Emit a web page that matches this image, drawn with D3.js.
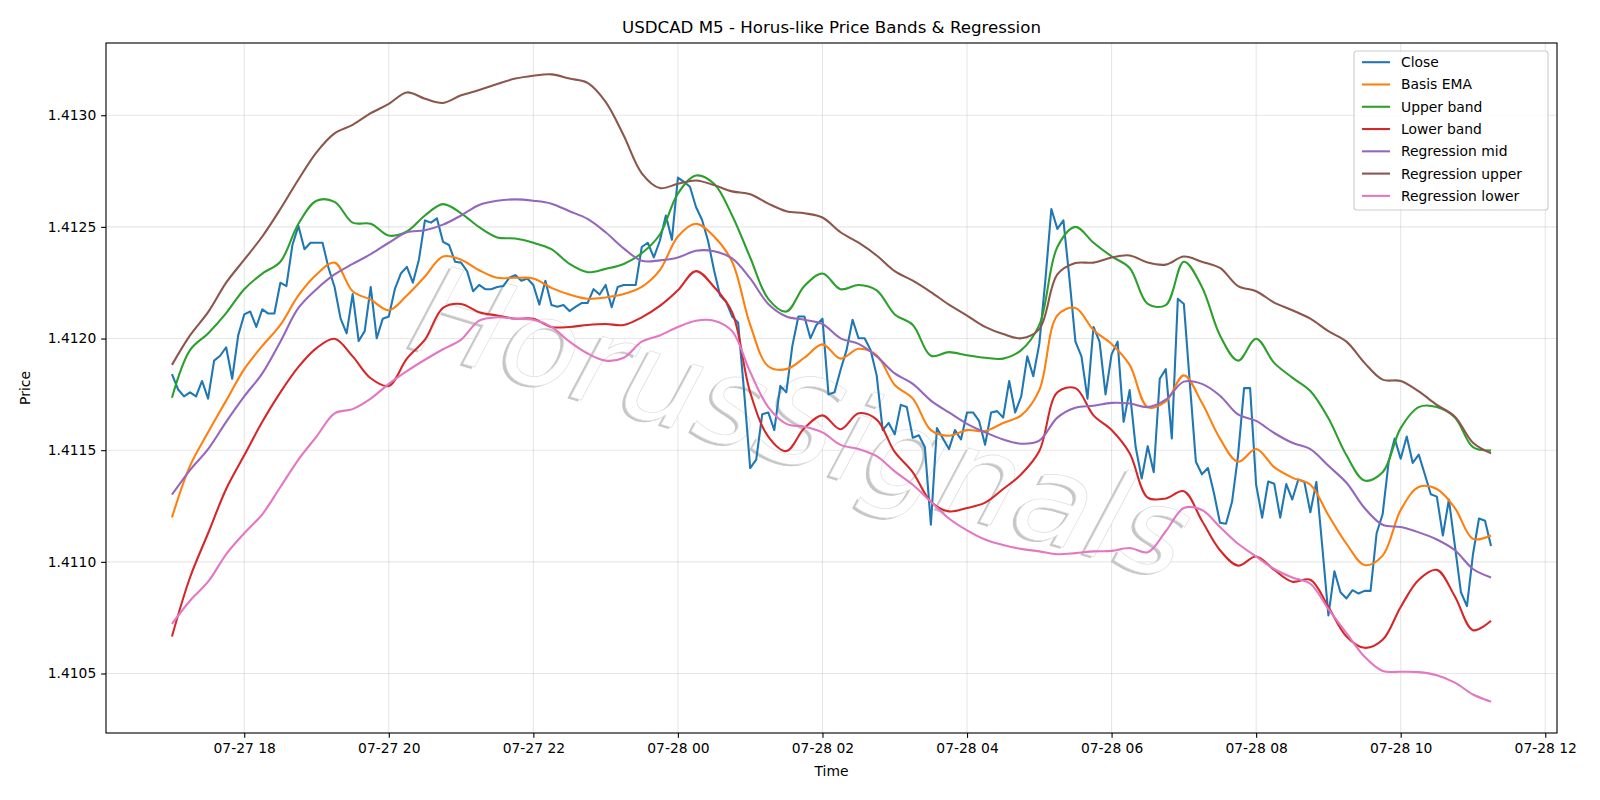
<!DOCTYPE html>
<html><head><meta charset="utf-8">
<script src="https://cdn.jsdelivr.net/npm/d3@7"></script>
<style>body{margin:0;background:#fff} text{font-family:"DejaVu Sans",sans-serif}</style>
</head><body><svg id="c" width="1600" height="800"></svg>
<script>
// ---------- DATA ----------
const chartTitle = "USDCAD M5 - Horus-like Price Bands & Regression";
const startTimeUTC = Date.UTC(2025, 6, 27, 17, 0); // 07-27 17:00
const closeStepMinutes = 5;
const bandStepMinutes = 15;
const closePrices = [
1.411841,1.411773,1.411741,1.411759,1.411741,1.411810,1.411731,1.411901,1.411923,1.411961,
1.411820,1.412014,1.412108,1.412121,1.412052,1.412131,1.412112,1.412112,1.412250,1.412235,
1.412419,1.412504,1.412400,1.412429,1.412429,1.412429,1.412316,1.412231,1.412089,1.412023,
1.412199,1.411989,1.412033,1.412231,1.412001,1.412089,1.412099,1.412221,1.412291,1.412321,
1.412250,1.412353,1.412529,1.412519,1.412538,1.412433,1.412419,1.412344,1.412340,1.412302,
1.412212,1.412240,1.412221,1.412221,1.412231,1.412235,1.412272,1.412284,1.412259,1.412269,
1.412240,1.412152,1.412259,1.412150,1.412142,1.412150,1.412123,1.412142,1.412159,1.412159,
1.412221,1.412197,1.412240,1.412140,1.412231,1.412240,1.412240,1.412240,1.412410,1.412429,
1.412363,1.412438,1.412551,1.412442,1.412721,1.412702,1.412680,1.412589,1.412532,1.412438,
1.412306,1.412193,1.412165,1.412099,1.412071,1.411759,1.411420,1.411458,1.411661,1.411669,
1.411590,1.411788,1.411759,1.411967,1.412099,1.412099,1.412001,1.412061,1.412089,1.411750,
1.411759,1.411859,1.411948,1.412084,1.412001,1.412001,1.411948,1.411835,1.411590,1.411622,
1.411571,1.411703,1.411693,1.411556,1.411567,1.411514,1.411166,1.411599,1.411552,1.411505,
1.411590,1.411548,1.411669,1.411669,1.411631,1.411524,1.411669,1.411675,1.411646,1.411810,
1.411669,1.411741,1.411920,1.411831,1.411976,1.412259,1.412580,1.412491,1.412529,1.412269,
1.411986,1.411920,1.411731,1.412052,1.411986,1.411750,1.411929,1.411986,1.411627,1.411769,
1.411514,1.411373,1.411518,1.411401,1.411820,1.411863,1.411552,1.412178,1.412155,1.411797,
1.411448,1.411392,1.411420,1.411307,1.411175,1.411171,1.411269,1.411477,1.411778,1.411778,
1.411345,1.411198,1.411360,1.411350,1.411198,1.411348,1.411279,1.411369,1.411358,1.411222,
1.411358,1.411062,1.410760,1.410958,1.410864,1.410836,1.410873,1.410858,1.410870,1.410870,
1.411128,1.411213,1.411448,1.411552,1.411462,1.411561,1.411443,1.411480,1.411392,1.411303,
1.411292,1.411118,1.411279,1.411071,1.410864,1.410802,1.411034,1.411194,1.411184,1.411071];
const basisEma = [
1.411199,1.411430,1.411580,1.411722,1.411863,1.411967,1.412061,1.412193,1.412287,1.412340,
1.412212,1.412174,1.412127,1.412193,1.412278,1.412367,1.412353,1.412306,1.412272,1.412272,
1.412269,1.412227,1.412197,1.412178,1.412184,1.412199,1.412231,1.412306,1.412457,1.412514,
1.412457,1.412344,1.412061,1.411876,1.411863,1.411914,1.411974,1.411910,1.411954,1.411925,
1.411792,1.411731,1.411590,1.411565,1.411590,1.411586,1.411622,1.411656,1.411769,1.412104,
1.412137,1.412038,1.411976,1.411882,1.411693,1.411718,1.411835,1.411712,1.411552,1.411448,
1.411505,1.411424,1.411377,1.411345,1.411209,1.411081,1.410986,1.411028,1.411232,1.411335,
1.411326,1.411241,1.411103,1.411118];
const upperBand = [
1.411735,1.411948,1.412023,1.412114,1.412221,1.412291,1.412344,1.412514,1.412617,1.412612,
1.412519,1.412514,1.412461,1.412480,1.412551,1.412602,1.412561,1.412499,1.412453,1.412448,
1.412429,1.412400,1.412334,1.412297,1.412312,1.412334,1.412382,1.412466,1.412649,1.412730,
1.412693,1.412551,1.412363,1.412178,1.412121,1.412235,1.412291,1.412221,1.412240,1.412216,
1.412108,1.412061,1.411923,1.411939,1.411925,1.411914,1.411910,1.411948,1.412061,1.412410,
1.412500,1.412429,1.412368,1.412316,1.412155,1.412150,1.412344,1.412231,1.412014,1.411901,
1.411999,1.411891,1.411825,1.411765,1.411643,1.411477,1.411364,1.411401,1.411599,1.411693,
1.411693,1.411646,1.411514,1.411499];
const lowerBand = [
1.410666,1.410930,1.411128,1.411326,1.411477,1.411627,1.411759,1.411873,1.411957,1.411999,
1.411920,1.411822,1.411788,1.411910,1.411995,1.412137,1.412155,1.412118,1.412103,1.412089,
1.412089,1.412052,1.412052,1.412061,1.412065,1.412061,1.412095,1.412146,1.412216,1.412302,
1.412231,1.412118,1.411759,1.411561,1.411496,1.411599,1.411656,1.411594,1.411665,1.411637,
1.411492,1.411401,1.411269,1.411226,1.411241,1.411265,1.411326,1.411392,1.411496,1.411759,
1.411778,1.411656,1.411590,1.411486,1.411288,1.411284,1.411316,1.411184,1.411052,1.410983,
1.411024,1.410964,1.410911,1.410920,1.410798,1.410666,1.410615,1.410651,1.410798,1.410920,
1.410964,1.410845,1.410694,1.410736];
const regressionMid = [
1.411301,1.411411,1.411505,1.411627,1.411741,1.411844,1.411986,1.412137,1.412221,1.412287,
1.412334,1.412378,1.412429,1.412476,1.412485,1.412510,1.412551,1.412598,1.412617,1.412623,
1.412617,1.412604,1.412570,1.412536,1.412476,1.412404,1.412348,1.412350,1.412363,1.412393,
1.412391,1.412359,1.412269,1.412155,1.412099,1.412084,1.412065,1.412001,1.411976,1.411920,
1.411844,1.411797,1.411722,1.411669,1.411618,1.411580,1.411548,1.411529,1.411543,1.411646,
1.411690,1.411699,1.411712,1.411709,1.411693,1.411726,1.411807,1.411797,1.411744,1.411660,
1.411631,1.411577,1.411533,1.411505,1.411430,1.411354,1.411241,1.411166,1.411156,1.411132,
1.411100,1.411052,1.410968,1.410930];
const regressionUpper = [
1.411882,1.412014,1.412118,1.412250,1.412353,1.412457,1.412580,1.412712,1.412834,1.412919,
1.412957,1.413009,1.413051,1.413102,1.413074,1.413055,1.413089,1.413113,1.413140,1.413164,
1.413177,1.413183,1.413164,1.413145,1.413060,1.412909,1.412740,1.412674,1.412693,1.412708,
1.412687,1.412659,1.412646,1.412604,1.412570,1.412561,1.412542,1.412476,1.412429,1.412372,
1.412302,1.412259,1.412208,1.412152,1.412103,1.412052,1.412020,1.412001,1.412042,1.412287,
1.412338,1.412340,1.412363,1.412372,1.412340,1.412331,1.412367,1.412344,1.412316,1.412235,
1.412212,1.412161,1.412127,1.412089,1.412033,1.411986,1.411891,1.411816,1.411810,1.411763,
1.411703,1.411650,1.411533,1.411486];
const regressionLower = [
1.410722,1.410826,1.410911,1.411034,1.411128,1.411213,1.411335,1.411458,1.411561,1.411665,
1.411684,1.411731,1.411797,1.411854,1.411905,1.411952,1.411995,1.412080,1.412095,1.412089,
1.412084,1.412052,1.411986,1.411933,1.411901,1.411914,1.411986,1.412014,1.412052,1.412080,
1.412080,1.412033,1.411850,1.411693,1.411618,1.411605,1.411580,1.411524,1.411505,1.411473,
1.411405,1.411345,1.411269,1.411194,1.411141,1.411100,1.411075,1.411058,1.411047,1.411034,
1.411039,1.411047,1.411049,1.411062,1.411043,1.411137,1.411241,1.411232,1.411156,1.411081,
1.411024,1.410968,1.410930,1.410902,1.410788,1.410681,1.410575,1.410511,1.410508,1.410506,
1.410492,1.410459,1.410406,1.410374];
const seriesNames = ["Close","Basis EMA","Upper band","Lower band","Regression mid","Regression upper","Regression lower"];
const seriesColors = ["#1f77b4","#ff7f0e","#2ca02c","#d62728","#9467bd","#8c564b","#e377c2"];
const yTickValues = [1.4105, 1.4110, 1.4115, 1.4120, 1.4125, 1.4130];
const xTickFormat = "%m-%d %H";
const xTickHours = 2;
const watermarkText = "HorusSignals";

// ---------- LAYOUT ----------
const W = 1600, H = 800;
const m = {left: 106, right: 43, top: 43, bottom: 67};
const iw = W - m.left - m.right, ih = H - m.top - m.bottom;
const svg = d3.select("#c");
const px = 100/72; // points -> pixels at 100 dpi

const closeTimes = closePrices.map((_, i) => new Date(startTimeUTC + i*closeStepMinutes*60000));
const bandTimes = basisEma.map((_, i) => new Date(startTimeUTC + i*bandStepMinutes*60000));

const series = [
  {vals: closePrices, t: closeTimes, smooth: false},
  {vals: basisEma, t: bandTimes, smooth: true},
  {vals: upperBand, t: bandTimes, smooth: true},
  {vals: lowerBand, t: bandTimes, smooth: true},
  {vals: regressionMid, t: bandTimes, smooth: true},
  {vals: regressionUpper, t: bandTimes, smooth: true},
  {vals: regressionLower, t: bandTimes, smooth: true}
];

const tExt = d3.extent(closeTimes);
const tPad = (tExt[1] - tExt[0]) * 0.05;
const x = d3.scaleUtc().domain([new Date(+tExt[0] - tPad), new Date(+tExt[1] + tPad)]).range([0, iw]);
const allV = series.flatMap(s => s.vals);
const vExt = d3.extent(allV);
const vPad = (vExt[1] - vExt[0]) * 0.05;
const y = d3.scaleLinear().domain([vExt[0] - vPad, vExt[1] + vPad]).range([ih, 0]);

const g = svg.append("g").attr("transform", `translate(${m.left},${m.top})`);
svg.append("defs").append("clipPath").attr("id","clip").append("rect").attr("width", iw).attr("height", ih);

const xTicks = d3.utcHour.every(xTickHours).range(x.domain()[0], x.domain()[1]);

// grid
const grid = g.append("g");
grid.selectAll(".gx").data(xTicks).join("line")
  .attr("x1", d => x(d)).attr("x2", d => x(d)).attr("y1", 0).attr("y2", ih)
  .attr("stroke", "#b0b0b0").attr("stroke-opacity", 0.3).attr("stroke-width", 0.8*px);
grid.selectAll(".gy").data(yTickValues).join("line")
  .attr("y1", d => y(d)).attr("y2", d => y(d)).attr("x1", 0).attr("x2", iw)
  .attr("stroke", "#b0b0b0").attr("stroke-opacity", 0.3).attr("stroke-width", 0.8*px);

// watermark
const wmSize = 123;
const wm = g.append("g").attr("transform", `translate(${802 - m.left},${423 - m.top}) rotate(17)`);
wm.append("text").attr("x", -2.5).attr("y", 2.5).attr("text-anchor","middle").attr("dominant-baseline","central")
  .attr("font-size", wmSize).attr("font-style","italic").attr("fill","#c6c6c6").text(watermarkText);
wm.append("text").attr("x", 0).attr("y", 0).attr("text-anchor","middle").attr("dominant-baseline","central")
  .attr("font-size", wmSize).attr("font-style","italic").attr("fill","#ffffff")
  .attr("stroke", "#dedede").attr("stroke-width", 0.7).text(watermarkText);

// lines
const plot = g.append("g").attr("clip-path", "url(#clip)");
series.forEach((s, k) => {
  const line = d3.line().x((d, i) => x(s.t[i])).y(d => y(d))
    .curve(s.smooth ? d3.curveCatmullRom.alpha(0.5) : d3.curveLinear);
  plot.append("path").datum(s.vals).attr("d", line)
    .attr("fill", "none").attr("stroke", seriesColors[k]).attr("stroke-width", 1.5*px)
    .attr("stroke-linejoin", "round").attr("stroke-linecap", "butt");
});

// axes
const fs = 10*px;
const xAxis = g.append("g").attr("transform", `translate(0,${ih})`)
  .call(d3.axisBottom(x).tickValues(xTicks).tickFormat(d3.utcFormat(xTickFormat)).tickSize(3.5*px).tickPadding(3.5*px).tickSizeOuter(0));
const yAxis = g.append("g")
  .call(d3.axisLeft(y).tickValues(yTickValues).tickFormat(d3.format(".4f")).tickSize(3.5*px).tickPadding(3.5*px).tickSizeOuter(0));
[xAxis, yAxis].forEach(a => {
  a.select(".domain").remove();
  a.selectAll("text").attr("font-size", fs).attr("fill", "#000").attr("font-family", "DejaVu Sans");
  a.selectAll("line").attr("stroke", "#000").attr("stroke-width", 0.8*px);
});
g.append("rect").attr("width", iw).attr("height", ih).attr("fill", "none").attr("stroke", "#000").attr("stroke-width", 0.8*px);

// labels
svg.append("text").attr("x", m.left + iw/2).attr("y", 33).attr("text-anchor", "middle").attr("font-size", 12*px).text(chartTitle);
svg.append("text").attr("x", m.left + iw/2).attr("y", 776).attr("text-anchor", "middle").attr("font-size", fs).text("Time");
svg.append("text").attr("transform", "translate(30,388) rotate(-90)").attr("text-anchor", "middle").attr("font-size", fs).text("Price");

// legend
const lg = svg.append("g").attr("transform", "translate(1354,51)");
lg.append("rect").attr("width", 194).attr("height", 159).attr("rx", 3).attr("ry", 3)
  .attr("fill", "#fff").attr("fill-opacity", 0.8).attr("stroke", "#cccccc").attr("stroke-width", 1.1);
seriesNames.forEach((n, k) => {
  const cy = 11.2 + k*22.28;
  lg.append("line").attr("x1", 8).attr("x2", 36).attr("y1", cy).attr("y2", cy)
    .attr("stroke", seriesColors[k]).attr("stroke-width", 1.5*px);
  lg.append("text").attr("x", 47).attr("y", cy).attr("dominant-baseline", "central").attr("font-size", fs).text(n);
});
</script></body></html>
